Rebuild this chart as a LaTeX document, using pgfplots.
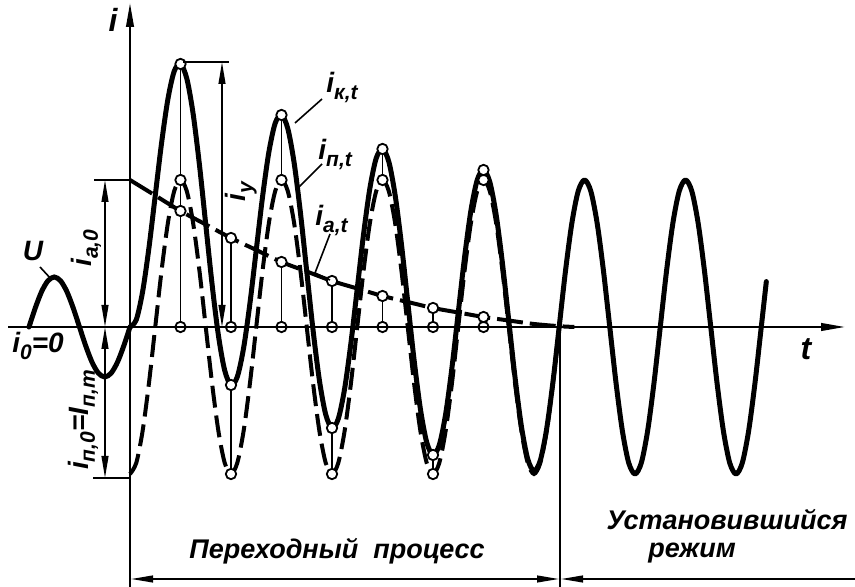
\documentclass[border=0pt]{standalone}
\usepackage{fontspec}
\setmainfont{Liberation Sans}
\usepackage{pgfplots}
\usepackage{pgfplotstable}
\pgfplotsset{compat=1.18}
\usetikzlibrary{arrows.meta}

\newcommand\sub[1]{\raisebox{-0.45ex}{\fontsize{10.5}{12}\selectfont #1}}
\newcommand\lab{\fontsize{14}{16}\selectfont\bfseries\itshape}
\newcommand\rus{\fontsize{13.5}{15}\selectfont\bfseries\itshape}

% total current i_k,t
\pgfplotstableread{
t v
0 0
6.25 7.3
12.5 35.4
18.75 79.1
25 131.5
31.25 183.9
37.5 227.7
43.75 255.7
50 263
56.25 248.4
62.5 213.2
68.75 162.2
75 102.5
81.25 42.8
87.5 -8.2
93.75 -43.4
100 -58
106.25 -49.8
112.5 -20.9
118.75 23.7
125 77
131.25 130.3
137.5 174.9
143.75 203.8
150 212
156.25 198.4
162.5 164.2
168.75 114.2
175 55.5
181.25 -3.2
187.5 -53.2
193.75 -87.4
200 -101
206.25 -91.7
212.5 -61.7
218.75 -15.9
225 38.5
231.25 92.9
237.5 138.7
243.75 168.7
250 178
256.25 165.3
262.5 131.9
268.75 82.8
275 25
281.25 -32.8
287.5 -81.9
293.75 -115.3
300 -128
306.25 -117.9
312.5 -87.2
318.75 -40.7
325 14.5
331.25 69.7
337.5 116.2
343.75 146.9
350 157
356.25 144.9
362.5 112.2
368.75 63.7
375 6.5
381.25 -50.7
387.5 -99.2
393.75 -131.9
400 -144
406.25 -133.4
412.5 -102
418.75 -55
425 0.8
431.25 56.7
437.5 104
443.75 135.8
450 147
456.25 135.8
462.5 103.9
468.75 56.3
475 0
481.25 -56.3
487.5 -103.9
493.75 -135.8
500 -147
506.25 -135.8
512.5 -103.9
518.75 -56.3
525 0
531.25 56.3
537.5 103.9
543.75 135.8
550 147
556.25 135.8
562.5 103.9
568.75 56.3
575 0
581.25 -56.3
587.5 -103.9
593.75 -135.8
600 -147
606.25 -135.8
612.5 -103.9
618.75 -56.3
625 0
630 45.4
}\ik

% periodic component i_p,t
\pgfplotstableread{
t v
0 -147
6.25 -135.8
12.5 -103.9
18.75 -56.3
25 0
31.25 56.3
37.5 103.9
43.75 135.8
50 147
56.25 135.8
62.5 103.9
68.75 56.3
75 0
81.25 -56.3
87.5 -103.9
93.75 -135.8
100 -147
106.25 -135.8
112.5 -103.9
118.75 -56.3
125 0
131.25 56.3
137.5 103.9
143.75 135.8
150 147
156.25 135.8
162.5 103.9
168.75 56.3
175 0
181.25 -56.3
187.5 -103.9
193.75 -135.8
200 -147
206.25 -135.8
212.5 -103.9
218.75 -56.3
225 0
231.25 56.3
237.5 103.9
243.75 135.8
250 147
256.25 135.8
262.5 103.9
268.75 56.3
275 0
281.25 -56.3
287.5 -103.9
293.75 -135.8
300 -147
306.25 -135.8
312.5 -103.9
318.75 -56.3
325 0
331.25 56.3
337.5 103.9
343.75 135.8
350 147
356.25 135.8
362.5 103.9
368.75 56.3
375 0
381.25 -56.3
387.5 -103.9
393.75 -135.8
400 -147
406.25 -135.8
412.5 -103.9
418.75 -56.3
425 0
}\ip

% aperiodic component i_a,t
\pgfplotstableread{
t v
0 147
25 131.5
50 116
75 102.5
100 89
125 77
150 65
175 55.5
200 46
225 38.5
250 31
275 25
300 19
325 14.5
350 10
375 6.5
400 3
425 0.8
440 0
}\ia

% voltage U
\pgfplotstableread{
t v
-100 0
-93.75 19.1
-87.5 35.4
-81.25 46.2
-75 50
-68.75 46.2
-62.5 35.4
-56.25 19.1
-50 0
-43.75 -19.1
-37.5 -35.4
-31.25 -46.2
-25 -50
-18.75 -46.2
-12.5 -35.4
-6.25 -19.1
0 0
}\uu

% connectors
\pgfplotstableread{
t v
50 0
50 263
50 nan
100 0
100 89
100 nan
100 -147
100 -58
100 nan
150 0
150 65
150 nan
150 147
150 212
150 nan
200 0
200 46
200 nan
200 -147
200 -101
200 nan
250 0
250 31
250 nan
250 147
250 178
250 nan
300 0
300 19
300 nan
300 -147
300 -128
300 nan
350 0
350 10
350 nan
350 147
350 157
}\conn

\tikzset{
  tip/.tip={Triangle[length=11pt,width=3.4pt]},
}

\begin{document}
\begin{tikzpicture}
\begin{axis}[name=ax, at={(0,0)}, scale only axis,
  width=427.5pt, height=293.5pt,
  xmin=-128.71, xmax=717.82, ymin=-260, ymax=327,
  hide axis]
\addplot[black, line width=0.9pt, unbounded coords=jump] table[x=t,y=v] {\conn};
\addplot[black, line width=2pt, smooth, dash pattern=on 13pt off 3.5pt] table[x=t,y=v] {\ia};
\addplot[black, line width=2pt, smooth, dash pattern=on 11pt off 4pt] table[x=t,y=v] {\ip};
\addplot[black, line width=2.5pt, smooth, line join=round, line cap=round] table[x=t,y=v] {\ik};
\addplot[black, line width=2.5pt, smooth, line cap=round] table[x=t,y=v] {\uu};
\addplot[only marks, mark=*, mark size=2.6pt, mark options={fill=white, draw=black, line width=0.9pt}] coordinates {
(50,0) (100,0) (150,0) (200,0) (250,0) (300,0) (350,0)
(50,116) (100,89) (150,65) (200,46) (250,31) (300,19) (350,10)
(50,147) (100,-147) (150,147) (200,-147) (250,147) (300,-147) (350,147)
(50,263) (100,-58) (150,212) (200,-101) (250,178) (300,-128) (350,157)
};
\end{axis}
\begin{scope}[shift={(ax.north west)}, x=0.5pt, y=-0.5pt]
% axes
\draw[line width=1.1pt, -{Triangle[length=12pt,width=3.8pt]}] (130,587) -- (130,3);
\draw[line width=1.1pt, -{Triangle[length=12pt,width=3.8pt]}] (8,327) -- (845,327);
\node at (113,20) {\fontsize{16}{18}\selectfont\bfseries\itshape i};
\node at (806,349) {\fontsize{16}{18}\selectfont\bfseries\itshape t};
% left dimensions
\draw[line width=0.8pt] (94,180) -- (130,180);
\draw[line width=0.8pt] (93,478) -- (130,478);
\draw[line width=0.8pt, {tip}-{tip}] (105,180) -- (105,327);
\draw[line width=0.8pt, {tip}-{tip}] (105,327) -- (105,478);
\node[rotate=90] at (86,248) {\lab i\sub{a,0}};
\node[rotate=90] at (83,420) {\lab i\sub{п,0}=I\sub{п,m}};
\node at (33,251) {\lab U};
\draw[line width=0.8pt] (40,267) -- (52,280);
\node at (38,346) {\lab i\sub{0}=0};
% shock current
\draw[line width=0.8pt] (183,62) -- (229,62);
\draw[line width=0.8pt, {tip}-{tip}] (222,62) -- (222,327);
\node[rotate=90] at (241,192) {\lab i\sub{у}};
% curve labels
\node[anchor=base west, inner sep=0pt] at (326,93) {\lab i\sub{к,t}};
\draw[line width=0.8pt] (322,99) -- (295,123);
\node[anchor=base west, inner sep=0pt] at (318,160) {\lab i\sub{п,t}};
\draw[line width=0.8pt] (322,164) -- (298,188);
\node[anchor=base west, inner sep=0pt] at (315,226) {\lab i\sub{a,t}};
\draw[line width=0.8pt] (330,234) -- (315,273) -- (330,280);
% bottom brackets
\draw[line width=0.8pt] (560,327) -- (560,587);
\draw[line width=0.8pt, {tip}-{tip}] (131,579) -- (559,579);
\draw[line width=0.8pt, -{tip}] (855,579) -- (561,579);
\node[inner sep=0pt] at (337,551) {\rus Переходный\ \ процесс};
\node[inner sep=0pt, anchor=base] at (727,530) {\rus Установившийся};
\node[inner sep=0pt, anchor=base] at (692,558) {\rus режим};
\end{scope}
\pgfresetboundingbox
\useasboundingbox (ax.south west) rectangle (ax.north east);
\end{tikzpicture}
\end{document}
